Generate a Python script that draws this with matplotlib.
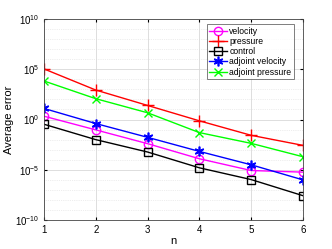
import matplotlib

matplotlib.use("Agg")
import matplotlib.pyplot as plt
from matplotlib.ticker import NullLocator

plt.rcParams["font.family"] = ["Liberation Sans", "DejaVu Sans"]

n = [1, 2, 3, 4, 5, 6]
velocity = [10**0.33, 10**-1.03, 10**-2.4, 10**-3.9, 10**-5.07, 10**-5.23]
pressure = [10**5.03, 10**2.93, 10**1.4, 10**-0.13, 10**-1.57, 10**-2.57]
control = [10**-0.47, 10**-2.0, 10**-3.23, 10**-4.8, 10**-5.97, 10**-7.57]
adj_velocity = [10**1.1, 10**-0.4, 10**-1.77, 10**-3.17, 10**-4.5, 10**-6.0]
adj_pressure = [10**3.83, 10**2.07, 10**0.67, 10**-1.3, 10**-2.37, 10**-3.7]

fig = plt.figure(figsize=(3.32, 2.49), dpi=100)
ax = fig.add_axes([0.1325, 0.116, 0.78, 0.808])

kw = dict(lw=1.0, ms=6, mew=1.0)
ax.plot(n, velocity, color="#ff00ff", marker="o", mfc="none", label="velocity", **kw)
ax.plot(n, pressure, color="#ff0000", marker="+", ms=9, lw=1.0, mew=1.0, label="pressure")
ax.plot(n, control, color="black", marker="s", mfc="none", label="control", **kw)
ax.plot(n, adj_velocity, color="#0000ff", marker=(6, 2, 0), ms=7, lw=1.0, mew=1.2,
        label="adjoint velocity")
ax.plot(n, adj_pressure, color="#00ff00", marker="x", label="adjoint pressure", **kw)

ax.set_yscale("log")
ax.set_xlim(1, 6)
ax.set_ylim(1e-10, 1e10)
ax.set_xticks(n)
ax.set_yticks([1e-10, 1e-5, 1e0, 1e5, 1e10])
ax.yaxis.set_minor_locator(NullLocator())
for d in range(-9, 10):
    if d % 5:
        ax.axhline(10.0**d, color="#dddddd", lw=0.5, ls=":", zorder=0)
ax.grid(True, which="major", color="#d8d8d8", lw=0.6)
ax.set_axisbelow(True)

ax.tick_params(labelsize=7, length=2, direction="in", top=True, right=True)
ax.set_xlabel("n", fontsize=8, labelpad=1)
ax.set_ylabel("Average error", fontsize=8, labelpad=1)
for s in ax.spines.values():
    s.set_linewidth(0.6)
    s.set_color("#444444")

leg = ax.legend(loc="upper right", bbox_to_anchor=(0.965, 0.975), fontsize=6.2,
                frameon=True, fancybox=False, edgecolor="#444444", borderpad=0.3,
                labelspacing=0.15, handlelength=2.0, handletextpad=0.3,
                borderaxespad=0)
leg.get_frame().set_linewidth(0.6)

fig.savefig("out.png", dpi=100)
